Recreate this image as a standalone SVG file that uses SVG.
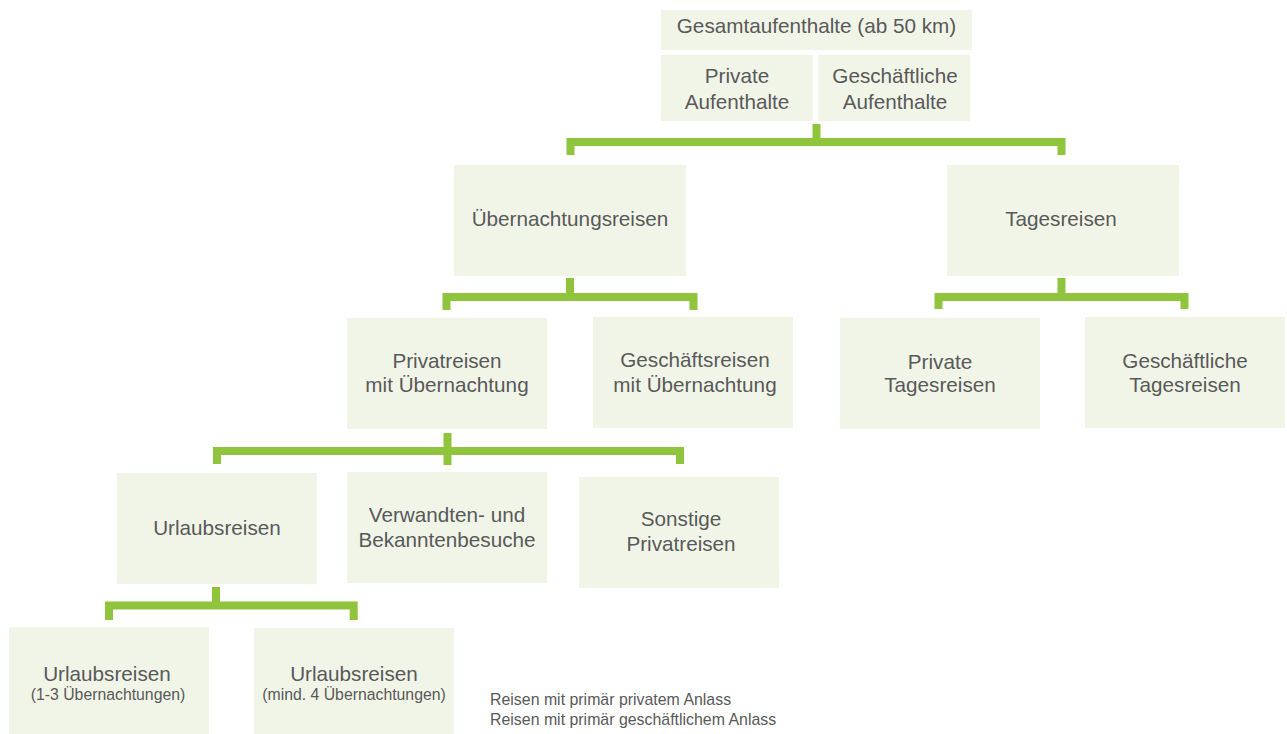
<svg xmlns="http://www.w3.org/2000/svg" width="1287" height="734" viewBox="0 0 1287 734">
<style>
.box{fill:#f1f5e8;}
.t{font-family:"Liberation Sans",Arial,sans-serif;font-size:20.7px;fill:#595959;text-anchor:middle;}
.s{font-family:"Liberation Sans",Arial,sans-serif;font-size:15.8px;fill:#595959;text-anchor:middle;}
.l{font-family:"Liberation Sans",Arial,sans-serif;font-size:15.9px;fill:#595959;}
.c{fill:none;stroke:#8fc43c;stroke-width:8;stroke-linecap:butt;stroke-linejoin:miter;}
</style>
<rect width="1287" height="734" fill="#ffffff"/>
<g id="connectors">
<path class="c" d="M816.5 124 V142"/>
<path class="c" d="M570.5 155 V142 H1061.5 V155"/>
<path class="c" d="M570 278 V297"/>
<path class="c" d="M446.5 310 V297 H693.5 V310"/>
<path class="c" d="M1061.5 278 V297"/>
<path class="c" d="M938.5 309 V297 H1184.5 V309"/>
<path class="c" d="M447.5 433 V465"/>
<path class="c" d="M217 464 V451 H680 V464"/>
<path class="c" d="M216 587 V605.5"/>
<path class="c" d="M109 620 V605.5 H353.7 V620"/>
</g>
<g id="gesamt"><rect class="box" x="661" y="10" width="311" height="40"/><text class="t" x="816.5" y="32.5">Gesamtaufenthalte (ab 50 km)</text></g>
<g id="private-aufenthalte"><rect class="box" x="661" y="55" width="152" height="66"/><text class="t" x="737" y="83">Private</text><text class="t" x="737" y="108.5">Aufenthalte</text></g>
<g id="geschaeftliche-aufenthalte"><rect class="box" x="818" y="55" width="152" height="66"/><text class="t" x="895" y="83">Geschäftliche</text><text class="t" x="895" y="108.5">Aufenthalte</text></g>
<g id="uebernachtungsreisen"><rect class="box" x="454" y="165" width="232" height="111"/><text class="t" x="570" y="226">Übernachtungsreisen</text></g>
<g id="tagesreisen"><rect class="box" x="947" y="165" width="232" height="111"/><text class="t" x="1061" y="226">Tagesreisen</text></g>
<g id="privatreisen-uebernachtung"><rect class="box" x="347" y="318" width="200" height="111"/><text class="t" x="447" y="368">Privatreisen</text><text class="t" x="447" y="392">mit Übernachtung</text></g>
<g id="geschaeftsreisen-uebernachtung"><rect class="box" x="593" y="317" width="200" height="111"/><text class="t" x="695" y="367">Geschäftsreisen</text><text class="t" x="695" y="392">mit Übernachtung</text></g>
<g id="private-tagesreisen"><rect class="box" x="840" y="318" width="200" height="111"/><text class="t" x="940" y="368.5">Private</text><text class="t" x="940" y="392">Tagesreisen</text></g>
<g id="geschaeftliche-tagesreisen"><rect class="box" x="1085" y="317" width="200" height="111"/><text class="t" x="1185" y="367.5">Geschäftliche</text><text class="t" x="1185" y="391.5">Tagesreisen</text></g>
<g id="urlaubsreisen"><rect class="box" x="117" y="473" width="200" height="111"/><text class="t" x="217" y="535">Urlaubsreisen</text></g>
<g id="verwandten"><rect class="box" x="347" y="472" width="200" height="111"/><text class="t" x="447" y="522">Verwandten- und</text><text class="t" x="447" y="547">Bekanntenbesuche</text></g>
<g id="sonstige"><rect class="box" x="579" y="477" width="200" height="111"/><text class="t" x="681" y="526">Sonstige</text><text class="t" x="681" y="551">Privatreisen</text></g>
<g id="urlaub-1-3"><rect class="box" x="9" y="627" width="200" height="107"/><text class="t" x="107" y="681">Urlaubsreisen</text><text class="s" x="108" y="700">(1-3 Übernachtungen)</text></g>
<g id="urlaub-4"><rect class="box" x="254" y="628" width="200" height="106"/><text class="t" x="354" y="681">Urlaubsreisen</text><text class="s" x="354" y="700">(mind. 4 Übernachtungen)</text></g>
<g id="legend"><text class="l" x="490" y="705">Reisen mit primär privatem Anlass</text><text class="l" x="490" y="724.5">Reisen mit primär geschäftlichem Anlass</text></g>
</svg>
